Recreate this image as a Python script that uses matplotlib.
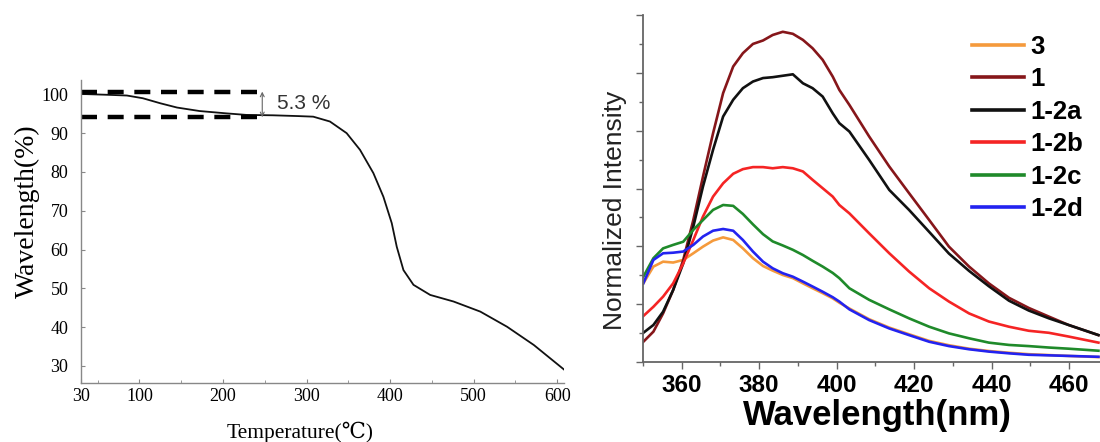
import numpy as np
import matplotlib
matplotlib.use("Agg")
import matplotlib.pyplot as plt
from matplotlib.ticker import MultipleLocator

# ---- left panel: TGA curve ----
tga_temp = [30, 60, 85, 104, 125, 145, 172, 204, 228, 260, 290, 308, 328, 348, 364, 380,
            392, 402, 408, 416, 428, 448, 476, 508, 540, 572, 608]
tga_val = [100.1, 99.9, 99.7, 99.0, 97.7, 96.6, 95.7, 95.1, 94.7, 94.6, 94.4, 94.25, 93.0,
           90.0, 85.7, 79.7, 73.6, 66.8, 60.7, 54.7, 50.9, 48.3, 46.6, 44.0, 40.1, 35.4, 29.1]
step_hi, step_lo, step_end = 100.7, 94.1, 249
step_label = "5.3 %"

# ---- right panel: emission spectra ----
wl = [350.1, 352.7, 355.2, 357.8, 360.4, 363.0, 365.5, 368.1, 370.7, 373.3, 375.8, 378.4,
      381.0, 383.5, 386.1, 388.7, 391.3, 393.8, 396.4, 399.0, 400.7, 403.3, 408.4, 413.6,
      418.7, 423.9, 429.0, 434.2, 439.3, 444.5, 449.6, 454.8, 459.9, 467.6]
spectra = {
    "3":    [2.72, 3.30, 3.47, 3.44, 3.53, 3.76, 3.99, 4.20, 4.31, 4.22, 3.93, 3.59, 3.32,
             3.16, 3.01, 2.90, 2.72, 2.55, 2.38, 2.20, 2.05, 1.85, 1.48, 1.19, 0.96, 0.73,
             0.58, 0.46, 0.38, 0.32, 0.27, 0.24, 0.21, 0.17],
    "1":    [0.70, 1.05, 1.68, 2.49, 3.53, 4.91, 6.41, 7.91, 9.30, 10.22, 10.68, 11.00, 11.12,
             11.31, 11.42, 11.35, 11.14, 10.85, 10.45, 9.87, 9.41, 8.89, 7.80, 6.76, 5.84,
             4.91, 3.99, 3.30, 2.72, 2.22, 1.87, 1.57, 1.28, 0.93],
    "1-2a": [1.01, 1.28, 1.74, 2.49, 3.41, 4.68, 6.07, 7.34, 8.49, 9.07, 9.47, 9.70, 9.82,
             9.85, 9.90, 9.95, 9.64, 9.47, 9.18, 8.60, 8.26, 7.97, 6.99, 5.95, 5.26, 4.50,
             3.75, 3.15, 2.62, 2.12, 1.78, 1.51, 1.28, 0.93],
    "1-2b": [1.59, 1.91, 2.26, 2.72, 3.41, 4.22, 5.03, 5.72, 6.18, 6.51, 6.67, 6.74, 6.74,
             6.70, 6.74, 6.70, 6.59, 6.30, 6.01, 5.72, 5.43, 5.14, 4.45, 3.76, 3.13, 2.55,
             2.09, 1.68, 1.40, 1.22, 1.08, 1.01, 0.88, 0.67],
    "1-2c": [2.95, 3.59, 3.93, 4.05, 4.16, 4.57, 4.91, 5.26, 5.43, 5.40, 5.12, 4.76, 4.42,
             4.17, 4.03, 3.88, 3.70, 3.50, 3.30, 3.08, 2.90, 2.55, 2.15, 1.82, 1.51, 1.22,
             0.99, 0.82, 0.67, 0.59, 0.55, 0.50, 0.46, 0.39],
    "1-2d": [2.72, 3.53, 3.76, 3.78, 3.82, 4.05, 4.34, 4.54, 4.60, 4.54, 4.22, 3.82, 3.47,
             3.24, 3.07, 2.95, 2.78, 2.61, 2.43, 2.24, 2.09, 1.82, 1.45, 1.16, 0.93, 0.70,
             0.55, 0.44, 0.36, 0.30, 0.25, 0.23, 0.21, 0.18],
}
colors = {"3": "#f59a3c", "1": "#86161a", "1-2a": "#111111", "1-2b": "#f52424",
          "1-2c": "#1f8a2a", "1-2d": "#2323f0"}

fig = plt.figure(figsize=(11, 4.42), dpi=100, facecolor="white")

# left
serif = ["Liberation Serif", "DejaVu Serif"]
ax = fig.add_axes([0.0736, 0.1335, 0.439, 0.6855])
ax.plot(tga_temp, tga_val, color="#111111", lw=1.3)
ax.set_xlim(30, 608)
ax.set_ylim(25.6, 103.7)
ax.hlines([step_hi, step_lo], 30, step_end, colors="black", lw=3.2, linestyles=(0, (3.6, 2.4)))
ax.annotate("", xy=(step_end - 2, step_lo), xytext=(step_end - 2, step_hi),
            arrowprops=dict(arrowstyle="<->", color="#666666", lw=0.8, shrinkA=0, shrinkB=0,
                            mutation_scale=7))
ax.text(step_end + 16, (step_hi + step_lo) / 2 + 0.3, step_label, fontsize=15,
        family=["Liberation Sans"], color="#333333", va="center", ha="left")
ax.set_xticks([30, 100, 200, 300, 400, 500, 600])
ax.xaxis.set_minor_locator(MultipleLocator(50))
ax.set_yticks([30, 40, 50, 60, 70, 80, 90, 100])
for s in ["top", "right"]:
    ax.spines[s].set_visible(False)
for s in ["left", "bottom"]:
    ax.spines[s].set_color("#888888")
    ax.spines[s].set_linewidth(1.0)
ax.tick_params(direction="in", length=3, width=0.8, color="#888888", labelsize=13)
ax.tick_params(axis="y", pad=9)
ax.tick_params(which="minor", direction="in", length=2, color="#888888")
for lb in ax.get_xticklabels() + ax.get_yticklabels():
    lb.set_family(serif)
ax.set_ylabel("Wavelength(%)", family=serif, fontsize=20)
ax.yaxis.set_label_coords(-0.085, 0.568)
ax.set_xlabel("Temperature(℃)", family=serif, fontsize=15.5)
ax.xaxis.set_label_coords(0.453, -0.128)

# right
sans = ["Liberation Sans", "DejaVu Sans"]
bx = fig.add_axes([0.5845, 0.181, 0.4155, 0.785])
for name in ["3", "1", "1-2a", "1-2b", "1-2c", "1-2d"]:
    bx.plot(wl, spectra[name], color=colors[name], lw=1.9, label=name)
bx.set_xlim(350, 468)
bx.set_ylim(0, 12)
bx.xaxis.set_major_locator(MultipleLocator(20))
bx.xaxis.set_minor_locator(MultipleLocator(10))
bx.yaxis.set_major_locator(MultipleLocator(2))
bx.yaxis.set_minor_locator(MultipleLocator(1))
bx.set_yticklabels([])
for s in ["top", "right"]:
    bx.spines[s].set_visible(False)
for s in ["left", "bottom"]:
    bx.spines[s].set_color("#666666")
    bx.spines[s].set_linewidth(1.3)
bx.tick_params(direction="out", length=5, width=1.0, color="#666666", labelsize=17.5)
bx.tick_params(which="minor", direction="out", length=3, width=1.0, color="#666666")
for lb in bx.get_xticklabels():
    lb.set_family(sans)
    lb.set_fontweight("bold")
bx.set_xlabel("Wavelength(nm)", family=sans, fontsize=25, fontweight="bold")
bx.xaxis.set_label_coords(0.512, -0.108)
bx.set_ylabel("Normalized Intensity", family=sans, fontsize=19, color="#222222")
bx.yaxis.set_label_coords(-0.034, 0.438)
leg = bx.legend(loc="upper left", bbox_to_anchor=(0.8745, 0.945), bbox_transform=fig.transFigure,
                frameon=False, prop=dict(family=sans, weight="bold", size=18.5),
                handlelength=2.0, handletextpad=0.27, labelspacing=0.33, borderaxespad=0)
for ln in leg.get_lines():
    ln.set_linewidth(2.6)

plt.savefig("out.png", dpi=100, facecolor="white")
